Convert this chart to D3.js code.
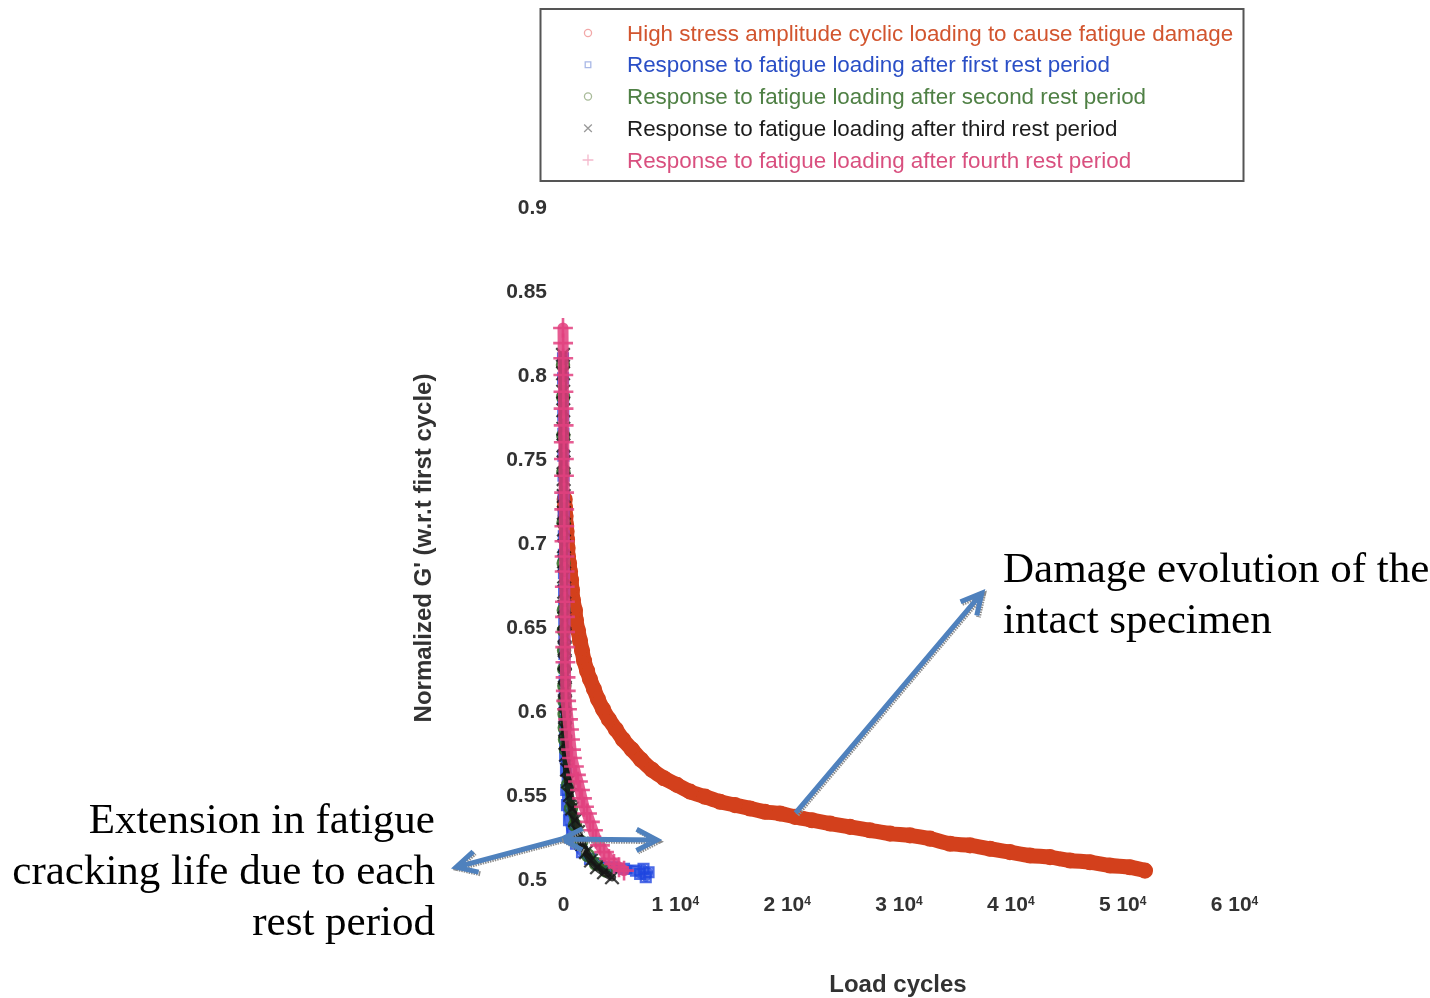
<!DOCTYPE html>
<html>
<head>
<meta charset="utf-8">
<script src="https://cdn.jsdelivr.net/npm/d3@7"></script>
<style>
  body { margin: 0; background: #fff; }
  svg { display: block; }
</style>
</head>
<body>
<svg id="chart" width="1430" height="998"></svg>
<script>
// ---- data: [load cycles, normalized G'] ----
const yTicks = [0.5, 0.55, 0.6, 0.65, 0.7, 0.75, 0.8, 0.85, 0.9];
const xTicks = [0, 10000, 20000, 30000, 40000, 50000, 60000];
const xTickMantissa = ["0", "1", "2", "3", "4", "5", "6"];
const xTickExponent = "4";

const seriesNames = [
  "High stress amplitude cyclic loading to cause fatigue damage",
  "Response to fatigue loading after first rest period",
  "Response to fatigue loading after second rest period",
  "Response to fatigue loading after third rest period",
  "Response to fatigue loading after fourth rest period"
];

const intact = [
  [150,0.726],[180,0.721],[230,0.716],[270,0.711],[320,0.707],[360,0.702],[410,0.697],[450,0.692],
  [540,0.688],[630,0.683],[720,0.678],[800,0.672],[890,0.666],[1070,0.660],[1160,0.654],[1340,0.648],
  [1520,0.642],[1700,0.636],[1880,0.630],[2150,0.624],[2410,0.619],[2770,0.613],[3130,0.607],[3580,0.601],
  [4110,0.595],[4740,0.589],[5370,0.583],[6170,0.577],[6980,0.571],[7960,0.565],[9030,0.560],[10190,0.556],
  [11360,0.552],[12700,0.549],[14040,0.546],[15380,0.544],[16720,0.542],[18060,0.540],[19400,0.539],
  [20750,0.537],[22270,0.535],[23880,0.533],[25660,0.531],[27450,0.529],[29240,0.527],[31030,0.526],
  [32820,0.524],[34610,0.521],[36400,0.520],[38180,0.518],[39970,0.516],[41760,0.514],[43550,0.513],
  [45340,0.511],[47130,0.510],[48910,0.508],[50700,0.507],[52040,0.505]
];

const afterRest1 = [
  [0,0.810],[8,0.798],[16,0.786],[24,0.776],[32,0.765],[40,0.752],[48,0.740],[56,0.728],[64,0.716],
  [72,0.704],[80,0.693],[88,0.682],[96,0.672],[104,0.662],[112,0.652],[120,0.643],[128,0.634],[136,0.626],
  [144,0.618],[152,0.610],[160,0.602],[168,0.594],[176,0.587],[184,0.580],[192,0.573],[268,0.565],
  [290,0.553],[358,0.544],[537,0.535],[805,0.527],[1163,0.521],[1699,0.516],[2414,0.512],[3309,0.509],
  [4382,0.507],[5455,0.506],[6528,0.505],[6900,0.503],[7200,0.506],[7400,0.501],[7650,0.504]
];

const afterRest2 = [
  [0,0.806],[12,0.787],[24,0.764],[36,0.742],[48,0.712],[60,0.688],[72,0.660],[84,0.648],[96,0.636],
  [108,0.625],[120,0.615],[132,0.606],[144,0.598],[156,0.590],[180,0.583],[268,0.577],[447,0.556],
  [715,0.542],[1073,0.532],[1610,0.522],[2236,0.514],[2951,0.509],[3845,0.505]
];

const afterRest3 = [
  [0,0.812],[8,0.801],[16,0.790],[24,0.779],[32,0.768],[40,0.758],[48,0.748],[56,0.738],[64,0.728],
  [72,0.718],[80,0.708],[88,0.698],[96,0.689],[104,0.680],[112,0.671],[120,0.662],[128,0.653],[136,0.645],
  [144,0.637],[152,0.629],[160,0.621],[168,0.613],[176,0.605],[184,0.597],[192,0.589],[220,0.581],
  [268,0.574],[358,0.565],[447,0.558],[626,0.550],[805,0.542],[1073,0.535],[1341,0.528],[1699,0.521],
  [2057,0.516],[2504,0.511],[3040,0.507],[3666,0.504],[4382,0.501]
];

const afterRest4 = [
  [0,0.828],[10,0.819],[20,0.810],[30,0.800],[40,0.790],[50,0.780],[60,0.770],[70,0.760],[80,0.750],
  [90,0.740],[100,0.730],[110,0.720],[120,0.710],[130,0.701],[140,0.692],[150,0.683],[160,0.674],
  [170,0.665],[180,0.656],[190,0.647],[200,0.638],[215,0.629],[230,0.620],[250,0.612],[280,0.606],
  [360,0.601],[450,0.595],[540,0.589],[630,0.583],[720,0.577],[800,0.572],[980,0.567],[1160,0.562],
  [1340,0.558],[1520,0.553],[1700,0.548],[1880,0.543],[2150,0.539],[2410,0.534],[2680,0.529],
  [2950,0.524],[3310,0.520],[3670,0.516],[4110,0.512],[4560,0.509],[5010,0.507],[5460,0.505]
];

// ---- styling per series ----
const seriesStyle = [
  { data: intact,     color: "#d3411b", text: "#d2552f", key: "#f2a8a8", symbol: d3.symbolCircle,  size: 135, band: 15, width: 3,   op: 1 },
  { data: afterRest1, color: "#1f46e0", text: "#2b4fc6", key: "#a9b8e6", symbol: d3.symbolSquare2, size: 120, band: 9,  width: 2.4, op: 0.8 },
  { data: afterRest2, color: "#2f6a22", text: "#4f8044", key: "#a9bb9a", symbol: d3.symbolCircle,  size: 110, band: 8,  width: 2.6, op: 0.85 },
  { data: afterRest3, color: "#151515", text: "#1e1e1e", key: "#9a9a9a", symbol: d3.symbolTimes,   size: 120, band: 8,  width: 2.2, op: 0.8 },
  { data: afterRest4, color: "#e2417f", text: "#d9507f", key: "#f4b8cc", symbol: d3.symbolPlus,    size: 130, band: 11, width: 2.6, op: 0.85 }
];

const svg = d3.select("#chart");
const plot = { left: 563, right: 1234, top: 207, bottom: 879 };

const x = d3.scaleLinear().domain([0, 60000]).range([plot.left, plot.right]);
const y = d3.scaleLinear().domain([0.5, 0.9]).range([plot.bottom, plot.top]);

const defs = svg.append("defs");
defs.append("filter").attr("id", "soft").attr("x", "-5%").attr("y", "-5%").attr("width", "110%").attr("height", "110%")
  .append("feGaussianBlur").attr("stdDeviation", 0.7);

const chart = svg.append("g").attr("filter", "url(#soft)");

// ---- axes (labels only, no lines) ----
const yAxis = chart.append("g")
  .attr("transform", `translate(${plot.left},0)`)
  .call(d3.axisLeft(y).tickValues(yTicks).tickFormat(d3.format(".2~f")).tickSize(0).tickPadding(16));
yAxis.select(".domain").remove();
yAxis.selectAll("text")
  .attr("font-family", "Liberation Sans, Arial, sans-serif")
  .attr("font-size", 21).attr("font-weight", "bold").attr("fill", "#333");

const xAxis = chart.append("g")
  .attr("transform", `translate(0,${plot.bottom})`)
  .call(d3.axisBottom(x).tickValues(xTicks).tickSize(0).tickPadding(17));
xAxis.select(".domain").remove();
xAxis.selectAll("text")
  .attr("font-family", "Liberation Sans, Arial, sans-serif")
  .attr("font-size", 21).attr("font-weight", "bold").attr("fill", "#333")
  .each(function(d, i) {
    const t = d3.select(this).text(null);
    if (d === 0) { t.append("tspan").text(xTickMantissa[i]); return; }
    t.append("tspan").text(xTickMantissa[i] + " 10");
    t.append("tspan").attr("dy", "-0.5em").attr("font-size", 12).text(xTickExponent);
  });

chart.append("text")
  .attr("transform", "translate(422,548) rotate(-90)")
  .attr("text-anchor", "middle").attr("dominant-baseline", "central")
  .attr("font-family", "Liberation Sans, Arial, sans-serif")
  .attr("font-size", 24).attr("font-weight", "bold").attr("fill", "#333")
  .text("Normalized G' (w.r.t first cycle)");

chart.append("text")
  .attr("x", 898).attr("y", 983)
  .attr("text-anchor", "middle").attr("dominant-baseline", "central")
  .attr("font-family", "Liberation Sans, Arial, sans-serif")
  .attr("font-size", 24).attr("font-weight", "bold").attr("fill", "#333")
  .text("Load cycles");

// ---- series: a dense band of overlapping markers ----
const line = d3.line()
  .x(d => x(d[0])).y(d => y(d[1]))
  .curve(d3.curveCatmullRom.alpha(0.5));

seriesStyle.forEach((s, i) => {
  const g = chart.append("g").attr("class", "series-" + i);
  g.append("path")
    .datum(s.data)
    .attr("d", line)
    .attr("fill", "none")
    .attr("stroke", s.color)
    .attr("stroke-width", s.band)
    .attr("stroke-opacity", s.op)
    .attr("stroke-linecap", "round")
    .attr("stroke-linejoin", "round");
  g.selectAll("path.mark")
    .data(s.data)
    .join("path")
    .attr("class", "mark")
    .attr("transform", d => `translate(${x(d[0])},${y(d[1])})`)
    .attr("d", d3.symbol().type(s.symbol).size(s.size))
    .attr("fill", "none")
    .attr("stroke", s.color)
    .attr("stroke-width", s.width)
    .attr("stroke-opacity", s.op);
});

// ---- legend ----
const legend = chart.append("g");
legend.append("rect")
  .attr("x", 540.5).attr("y", 9).attr("width", 703).attr("height", 172)
  .attr("fill", "#fff").attr("stroke", "#555").attr("stroke-width", 2);
const rowY = d3.scalePoint().domain(d3.range(seriesNames.length)).range([33, 160]);
seriesNames.forEach((name, i) => {
  const s = seriesStyle[i];
  legend.append("path")
    .attr("transform", `translate(588,${rowY(i)})`)
    .attr("d", d3.symbol().type(s.symbol).size(40))
    .attr("fill", "none").attr("stroke", s.key).attr("stroke-width", 1.3);
  legend.append("text")
    .attr("x", 627).attr("y", rowY(i))
    .attr("dominant-baseline", "central")
    .attr("font-family", "Liberation Sans, Arial, sans-serif")
    .attr("font-size", 22.4).attr("fill", s.text)
    .text(name);
});

// ---- annotations ----
const ann = svg.append("g");
const arrowBlue = "#4f81bd";

function chevron(tip, from, len, halfAngle) {
  const a = Math.atan2(from[1] - tip[1], from[0] - tip[0]);
  const p1 = [tip[0] + len * Math.cos(a + halfAngle), tip[1] + len * Math.sin(a + halfAngle)];
  const p2 = [tip[0] + len * Math.cos(a - halfAngle), tip[1] + len * Math.sin(a - halfAngle)];
  return `M${p1[0]},${p1[1]}L${tip[0]},${tip[1]}L${p2[0]},${p2[1]}`;
}

function drawArrow(a, b, headAtA, headAtB) {
  const p = [x(a[0]), y(a[1])], q = [x(b[0]), y(b[1])];
  let d = `M${p[0]},${p[1]}L${q[0]},${q[1]}`;
  if (headAtB) d += chevron(q, p, 23, 0.48);
  if (headAtA) d += chevron(p, q, 23, 0.48);
  ann.append("path").attr("d", d)
    .attr("transform", "translate(1.6,1.6)")
    .attr("fill", "none").attr("stroke", "#8c8c8c").attr("stroke-width", 5)
    .attr("stroke-dasharray", "1.5 1").attr("stroke-linejoin", "miter");
  ann.append("path").attr("d", d)
    .attr("fill", "none").attr("stroke", arrowBlue).attr("stroke-width", 5)
    .attr("stroke-linejoin", "miter");
}

// points in [cycles, G'] space
drawArrow([20800, 0.5393], [37450, 0.6702], false, true);
drawArrow([-100, 0.5238], [8400, 0.5232], true, true);
drawArrow([-100, 0.5238], [-9550, 0.5071], false, true);

const serif = "Liberation Serif, Times New Roman, serif";
ann.append("text")
  .attr("x", x(39350)).attr("y", y(0.6768))
  .attr("font-family", serif).attr("font-size", 43).attr("fill", "#000")
  .selectAll("tspan")
  .data(["Damage evolution of the", "intact specimen"])
  .join("tspan")
  .attr("x", x(39350)).attr("dy", (d, i) => i ? 51 : 0)
  .text(d => d);

ann.append("text")
  .attr("x", x(-11450)).attr("y", y(0.5274))
  .attr("text-anchor", "end")
  .attr("font-family", serif).attr("font-size", 43).attr("fill", "#000")
  .selectAll("tspan")
  .data(["Extension in fatigue", "cracking life due to each", "rest period"])
  .join("tspan")
  .attr("x", x(-11450)).attr("dy", (d, i) => i ? 51 : 0)
  .text(d => d);
</script>
</body>
</html>
